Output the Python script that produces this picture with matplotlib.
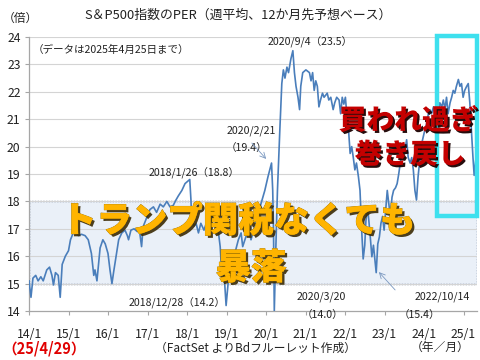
import matplotlib
matplotlib.use("Agg")
import matplotlib.pyplot as plt
import matplotlib.patheffects as pe
from matplotlib.patches import Rectangle

plt.rcParams['font.family'] = ['Noto Sans CJK JP', 'DejaVu Sans']

# ---- data (decimal year, forward PER) ----
dates = [
    2014.00, 2014.05, 2014.10, 2014.17, 2014.23, 2014.30, 2014.36, 2014.45, 2014.52, 2014.58,
    2014.62, 2014.67, 2014.74, 2014.79, 2014.84, 2014.92, 2015.00, 2015.05, 2015.12, 2015.17,
    2015.25, 2015.33, 2015.42, 2015.50, 2015.58, 2015.64, 2015.67, 2015.72, 2015.80, 2015.87,
    2015.93, 2016.00, 2016.05, 2016.10, 2016.14, 2016.20, 2016.27, 2016.35, 2016.43, 2016.49,
    2016.52, 2016.58, 2016.66, 2016.74, 2016.80, 2016.85, 2016.89, 2016.95, 2017.06, 2017.15,
    2017.23, 2017.32, 2017.40, 2017.49, 2017.57, 2017.65, 2017.72, 2017.78, 2017.87, 2017.95,
    2018.07, 2018.10, 2018.12, 2018.18, 2018.23, 2018.29, 2018.35, 2018.43, 2018.51, 2018.62,
    2018.68, 2018.75, 2018.84, 2018.87, 2018.90, 2018.95, 2018.99, 2019.04, 2019.13, 2019.21,
    2019.30, 2019.37, 2019.41, 2019.50, 2019.55, 2019.62, 2019.70, 2019.78, 2019.85, 2019.90,
    2019.97, 2020.05, 2020.14, 2020.17, 2020.19, 2020.21, 2020.25, 2020.29, 2020.35, 2020.40,
    2020.44, 2020.48, 2020.53, 2020.57, 2020.63, 2020.68, 2020.72, 2020.76, 2020.81, 2020.85,
    2020.88, 2020.93, 2021.01, 2021.10, 2021.14, 2021.18, 2021.22, 2021.26, 2021.30, 2021.34,
    2021.38, 2021.43, 2021.47, 2021.55, 2021.59, 2021.64, 2021.70, 2021.74, 2021.79, 2021.85,
    2021.89, 2021.93, 2021.97, 2022.01, 2022.05, 2022.09, 2022.13, 2022.17, 2022.21, 2022.25,
    2022.29, 2022.34, 2022.38, 2022.42, 2022.46, 2022.50, 2022.53, 2022.57, 2022.61, 2022.64,
    2022.68, 2022.72, 2022.79, 2022.83, 2022.87, 2022.91, 2022.95, 2022.99, 2023.03, 2023.07,
    2023.11, 2023.15, 2023.19, 2023.23, 2023.28, 2023.32, 2023.36, 2023.40, 2023.44, 2023.48,
    2023.52, 2023.56, 2023.60, 2023.65, 2023.69, 2023.73, 2023.77, 2023.81, 2023.85, 2023.90,
    2023.94, 2023.98, 2024.02, 2024.07, 2024.11, 2024.15, 2024.19, 2024.24, 2024.28, 2024.32,
    2024.36, 2024.40, 2024.45, 2024.49, 2024.53, 2024.57, 2024.61, 2024.66, 2024.70, 2024.74,
    2024.78, 2024.82, 2024.87, 2024.91, 2024.95, 2024.99, 2025.03, 2025.08, 2025.12, 2025.16,
    2025.20, 2025.24, 2025.27, 2025.31,
]
per = [
    15.1, 14.5, 15.2, 15.3, 15.1, 15.25, 15.1, 15.5, 15.6, 15.3,
    14.95, 15.4, 15.3, 14.5, 15.7, 16.0, 16.2, 16.6, 16.85, 16.95,
    16.75, 16.8, 16.75, 16.6, 16.1, 15.3, 15.5, 15.1, 16.3, 16.6,
    16.45, 16.1, 15.5, 15.0, 15.4, 15.95, 16.6, 16.85, 16.95, 16.75,
    16.6, 16.95, 17.0, 16.9, 16.9, 16.35, 17.08, 17.3, 17.7, 17.8,
    17.6, 17.9, 17.8, 18.0, 17.8, 17.85, 18.05, 18.2, 18.4, 18.65,
    18.8, 18.05, 17.3, 17.1, 17.2, 16.85, 17.2, 16.95, 17.3, 17.5,
    17.3, 17.4, 16.35, 15.6, 15.9, 15.1, 14.2, 15.0, 15.6, 16.1,
    16.6, 16.85, 16.35, 16.75, 17.1, 16.6, 17.0, 17.4, 17.8, 18.05,
    18.4, 18.9, 19.4, 18.4, 16.95, 14.0, 16.35, 18.4, 20.6, 22.3,
    22.8, 22.5, 22.9, 22.7, 23.2, 23.5, 22.7, 22.2, 21.8, 21.35,
    22.2, 22.7, 22.8, 22.7, 22.4, 22.7, 22.05, 22.4, 22.2, 21.45,
    21.7, 21.95, 21.8, 21.95, 21.7, 21.8, 21.35, 21.6, 21.8, 21.7,
    21.2, 21.8, 21.55, 21.8, 21.1, 20.6, 19.75, 20.0, 19.6, 19.15,
    19.4, 18.9, 18.4, 17.0, 15.9, 16.4, 17.3, 17.8, 17.2, 16.7,
    15.98, 16.4, 15.4, 16.45, 16.7, 17.2, 17.45, 16.95, 17.7, 18.4,
    17.9, 17.45, 18.15, 18.4, 18.5, 18.65, 19.0, 19.4, 19.75, 20.1,
    19.9, 20.25, 19.6, 19.4, 19.6, 19.15, 18.4, 18.05, 18.9, 19.6,
    20.1, 20.35, 20.6, 20.85, 21.2, 21.35, 21.2, 21.45, 21.1, 20.85,
    21.2, 21.6, 21.45, 21.7, 21.35, 21.8, 21.2, 21.6, 21.8, 22.05,
    21.95, 22.2, 22.45, 22.2, 22.3, 21.8, 22.05, 22.2, 22.3, 21.6,
    20.6, 19.6, 18.95, 19.5,
]
year_ticks = list(range(2014, 2026))
year_labels = ["14/1", "15/1", "16/1", "17/1", "18/1", "19/1", "20/1",
               "21/1", "22/1", "23/1", "24/1", "25/1"]
y_ticks = list(range(14, 25))

W, H = 480, 360
fig = plt.figure(figsize=(4.8, 3.6), dpi=100)
fig.patch.set_facecolor('white')
L, R, T, B = 29, 477, 37, 311
ax = fig.add_axes([L / W, 1 - B / H, (R - L) / W, (B - T) / H])

x0 = 2014.0
x1 = 2014 + (R - L) / 39.5
ax.set_xlim(x0, x1)
ax.set_ylim(14, 24)

# shaded band 15-18
ax.add_patch(Rectangle((x0, 15), x1 - x0 - 0.01, 3, facecolor='#EAF0F8',
                       edgecolor='#5F6F88', linestyle=(0, (1, 1)), linewidth=1.0, zorder=1))
for yv in range(15, 25):
    ax.axhline(yv, color='#D4D4D4', linewidth=0.8, zorder=1.5)

ax.plot(dates, per, color='#4A7EBB', linewidth=1.2, zorder=3)

for s in ['top', 'right']:
    ax.spines[s].set_visible(False)
for s in ['left', 'bottom']:
    ax.spines[s].set_color('#A6A6A6')
    ax.spines[s].set_linewidth(0.9)
ax.set_xticks(year_ticks)
ax.set_xticklabels(year_labels)
ax.set_yticks(y_ticks)
ax.tick_params(axis='both', colors='#A6A6A6', length=3, width=0.8, labelcolor='#222222',
               labelsize=8.8)
ax.tick_params(axis='x', pad=9)
ax.tick_params(axis='y', pad=3)

def px(xp, yp):
    return 2014 + (xp - L) / 39.5, 24 - (yp - T) / 27.4

fs = 7.6
tc = '#222222'
ax.text(*px(310, 41), "2020/9/4（23.5）", ha='center', va='center', fontsize=fs, color=tc, zorder=5)
ax.text(*px(227, 131), "2020/2/21", ha='left', va='center', fontsize=fs, color=tc, zorder=5)
ax.text(*px(226, 148), "（19.4）", ha='left', va='center', fontsize=fs, color=tc, zorder=5)
ax.annotate("", xy=px(268, 161), xytext=px(250, 141),
            arrowprops=dict(arrowstyle='->', color='#7A98C0', lw=0.6), zorder=5)
ax.text(*px(194, 172), "2018/1/26（18.8）", ha='center', va='center', fontsize=fs, color=tc, zorder=5)
ax.text(*px(177, 302), "2018/12/28（14.2）", ha='center', va='center', fontsize=fs, color=tc, zorder=5)
ax.text(*px(321, 297), "2020/3/20", ha='center', va='center', fontsize=fs, color=tc, zorder=5)
ax.text(*px(322, 315), "（14.0）", ha='center', va='center', fontsize=fs, color=tc, zorder=5, clip_on=False)
ax.text(*px(442, 297), "2022/10/14", ha='center', va='center', fontsize=fs, color=tc, zorder=5)
ax.text(*px(419, 315), "（15.4）", ha='center', va='center', fontsize=fs, color=tc, zorder=5, clip_on=False)
ax.annotate("", xy=px(377, 270), xytext=px(397, 292),
            arrowprops=dict(arrowstyle='->', color='#7A98C0', lw=0.6), zorder=5)
ax.text(*px(33, 50), "（データは2025年4月25日まで）", ha='left', va='center', fontsize=fs, color=tc, zorder=5)

def ftext(xp, yp, s, **kw):
    fig.text(xp / W, 1 - yp / H, s, **kw)

ftext(238, 15, "S＆P500指数のPER（週平均、12か月先予想ベース）", ha='center', va='center',
      fontsize=9.3, color=tc)
ftext(20, 18, "（倍）", ha='center', va='center', fontsize=8.5, color=tc)
ftext(440, 347, "（年／月）", ha='center', va='center', fontsize=8.5, color=tc)
ftext(255, 348, "（FactSet よりBdフルーレット作成）", ha='center', va='center', fontsize=8.5, color=tc)
ftext(44, 349, "（25/4/29）", ha='center', va='center', fontsize=10.5, color='#E00000',
      fontweight='bold')

# big overlay texts
yshadow = [pe.SimplePatchShadow(offset=(1.8, -1.8), shadow_rgbFace='#3B2B05', alpha=0.9),
           pe.withStroke(linewidth=0.6, foreground='#9A7000'), pe.Normal()]
ftext(238, 221, "トランプ関税なくても", ha='center', va='center', fontsize=25.5,
      color='#FFB400', fontweight='black', path_effects=yshadow, zorder=10)
ftext(251, 268, "暴落", ha='center', va='center', fontsize=25.5,
      color='#FFB400', fontweight='black', path_effects=yshadow, zorder=10)

rshadow = [pe.SimplePatchShadow(offset=(1.5, -1.5), shadow_rgbFace='#1A0000', alpha=0.95),
           pe.Normal()]
ftext(408, 121, "買われ過ぎ", ha='center', va='center', fontsize=20,
      color='#C40000', fontweight='black', path_effects=rshadow, zorder=10)
ftext(410, 155, "巻き戻し", ha='center', va='center', fontsize=20,
      color='#C40000', fontweight='black', path_effects=rshadow, zorder=10)

# cyan highlight box
fig.patches.append(Rectangle((437 / W, 1 - 216 / H), (477 - 437) / W, (216 - 36) / H,
                             transform=fig.transFigure, fill=False, edgecolor='#3EE0EE',
                             linewidth=3.2, zorder=9))

fig.savefig("out.png", dpi=100)
